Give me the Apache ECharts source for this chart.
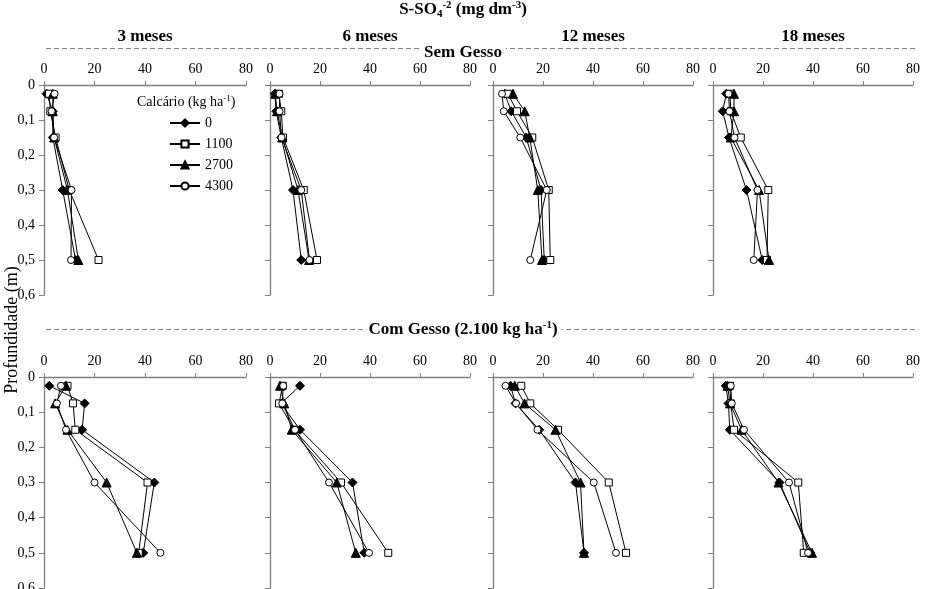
<!DOCTYPE html>
<html><head><meta charset="utf-8">
<script src="https://cdn.jsdelivr.net/npm/echarts@6/dist/echarts.min.js"></script>
<style>html,body{margin:0;padding:0;background:#fff}#c{width:926px;height:589px}</style>
</head><body><div id="c"></div>
<script>
// Depths (m)
const depths = [0.025, 0.075, 0.15, 0.3, 0.5];
const doses = ['0', '1100', '2700', '4300'];
const periods = ['3 meses', '6 meses', '12 meses', '18 meses'];
const xTicks = [0, 20, 40, 60, 80];
const yTicks = [0, 0.1, 0.2, 0.3, 0.4, 0.5, 0.6];

// S-SO4 (mg dm-3) — rows: doses 0, 1100, 2700, 4300 ; cols: depths
const sem3 = [[1, 3.5, 3.5, 7.4, 12.5], [2, 2.5, 4.6, 10, 21.6], [3.5, 3.5, 4, 9.3, 13.6], [4.2, 3, 4, 10.9, 10.7]];
const sem6 = [[1.9, 2.5, 4.5, 9.2, 12.5], [3.6, 4.5, 5.2, 13.5, 18.8], [2.1, 2.8, 4.9, 11.2, 15.6], [3.8, 3.8, 4.6, 12.5, 15.8]];
const sem12 = [[4.7, 7.3, 13.3, 19.2, 20.5], [5.9, 9.6, 15.7, 22.3, 22.9], [8, 12.7, 14.7, 17.9, 19.6], [3.6, 4.3, 10.9, 21.5, 14.9]];
const sem18 = [[5.3, 3.9, 6.4, 13.4, 19.7], [6.8, 7.1, 11.1, 22.1, 21.6], [8.4, 8.4, 7.1, 18.4, 22.4], [6.2, 6.6, 8.6, 17.8, 16.3]];
const com3 = [[2.1, 16.1, 15.1, 43.7, 39.3], [9.3, 11.5, 12.4, 41, 37.5], [8.7, 4.4, 9.3, 24.8, 36.8], [6.7, 5.1, 8.7, 20, 46.1]];
const com6 = [[12, 4.4, 12, 33, 37.7], [5.1, 3.6, 9.7, 28.4, 47.3], [4, 5.7, 8.7, 26.7, 34.3], [5.3, 4.9, 10, 23.6, 39.6]];
const com12 = [[7, 9, 18.5, 33, 36.4], [11.3, 14.9, 26, 46.3, 53.2], [8.7, 12.6, 25, 35, 36.4], [5, 9.2, 17.8, 40.3, 49.2]];
const com18 = [[5.1, 6.2, 6.7, 26.6, 38.9], [6.8, 7.1, 8.4, 34.1, 36.3], [5.8, 6.8, 11.4, 26.2, 39.6], [7.1, 7.5, 12.4, 30.4, 38]];

const panels = [sem3, sem6, sem12, sem18, com3, com6, com12, com18];

const FONT = '"Liberation Serif", "Times New Roman", serif';
const colLeft = [44, 270, 493, 713];
const colWidth = [202, 200, 200, 200];
const rowTop = [85, 377];
const rowHeight = [210, 211];

const markerStyles = [
  {symbol: 'diamond', size: 9, fill: '#000'},
  {symbol: 'rect', size: 7, fill: '#fff'},
  {symbol: 'triangle', size: 9, fill: '#000'},
  {symbol: 'circle', size: 7, fill: '#fff'}
];

const grids = [], xAxes = [], yAxes = [], series = [];
panels.forEach((p, i) => {
  const r = Math.floor(i / 4), c = i % 4;
  grids.push({left: colLeft[c], top: rowTop[r], width: colWidth[c], height: rowHeight[r],
    containLabel: false, outerBoundsMode: 'none'});
  xAxes.push({
    gridIndex: i, type: 'value', position: 'top', min: xTicks[0], max: xTicks[xTicks.length - 1], interval: 20,
    axisLine: {show: true, lineStyle: {color: '#7f7f7f', width: 1.3}},
    axisTick: {show: true, inside: false, length: 4, lineStyle: {color: '#7f7f7f'}},
    axisLabel: {show: true, margin: 9, color: '#000', fontFamily: FONT, fontSize: 14},
    splitLine: {show: false}
  });
  yAxes.push({
    gridIndex: i, type: 'value', inverse: true, min: 0, max: 0.6, interval: 0.1,
    axisLine: {show: true, lineStyle: {color: '#7f7f7f', width: 1.3}},
    axisTick: {show: true, inside: false, length: 5, lineStyle: {color: '#7f7f7f'}},
    axisLabel: {show: c === 0, margin: 9, color: '#000', fontFamily: FONT, fontSize: 14,
      formatter: v => v === 0 ? '0' : v.toFixed(1).replace('.', ',')},
    splitLine: {show: false}
  });
  p.forEach((vals, k) => {
    const m = markerStyles[k];
    series.push({
      type: 'line', name: doses[k], xAxisIndex: i, yAxisIndex: i,
      data: vals.map((v, j) => [v, depths[j]]),
      symbol: m.symbol, symbolSize: m.size, showSymbol: true, animation: false,
      lineStyle: {color: '#000', width: 1},
      itemStyle: {color: m.fill, borderColor: '#000', borderWidth: 1},
      emphasis: {disabled: true}, z: 2 + k
    });
  });
});

const titleRich = {
  b: {fontFamily: FONT, fontSize: 17, fontWeight: 'bold', color: '#000', lineHeight: 20},
  sup: {fontFamily: FONT, fontSize: 11, fontWeight: 'bold', color: '#000', verticalAlign: 'top', lineHeight: 11},
  sub: {fontFamily: FONT, fontSize: 11, fontWeight: 'bold', color: '#000', verticalAlign: 'bottom', lineHeight: 11}
};

const titles = [
  {text: '{b|S-SO}{sub|4}{sup|-2}{b| (mg dm}{sup|-3}{b|)}', left: 'center', top: 0, padding: 0, textStyle: {rich: titleRich}}
];
periods.forEach((t, c) => {
  titles.push({text: t, left: colLeft[c] + colWidth[c] / 2, top: 28, padding: 0, textAlign: 'center',
    textStyle: {fontFamily: FONT, fontSize: 17, fontWeight: 'bold', color: '#000'}});
});

const graphic = [
  {type: 'line', shape: {x1: 46, y1: 48.5, x2: 916, y2: 48.5}, style: {stroke: '#7f7f7f', lineWidth: 1, lineDash: [5, 3]}, z: 1},
  {type: 'text', x: 463, y: 53, style: {text: 'Sem Gesso', align: 'center', verticalAlign: 'middle',
    font: 'bold 17px ' + FONT, fill: '#000', backgroundColor: '#fff', padding: [0, 4]}, z: 5},
  {type: 'line', shape: {x1: 46, y1: 329.5, x2: 916, y2: 329.5}, style: {stroke: '#7f7f7f', lineWidth: 1, lineDash: [5, 3]}, z: 1},
  {type: 'text', x: 463, y: 330, style: {
    text: '{b|Com Gesso (2.100 kg ha}{sup|-1}{b|)}', align: 'center', verticalAlign: 'middle',
    backgroundColor: '#fff', padding: [0, 4], rich: titleRich}, z: 5},
  {type: 'text', x: 12, y: 330, rotation: Math.PI / 2, style: {text: 'Profundidade (m)', align: 'center', verticalAlign: 'middle',
    font: '18px ' + FONT, fill: '#000'}, z: 5},
  {type: 'text', x: 137, y: 102, style: {
    text: '{n|Calcário (kg ha}{s|-1}{n|)}', align: 'left', verticalAlign: 'middle',
    rich: {n: {fontFamily: FONT, fontSize: 14, color: '#000', lineHeight: 16}, s: {fontFamily: FONT, fontSize: 9, color: '#000', verticalAlign: 'top', lineHeight: 9}}}, z: 5}
];

const chart = echarts.init(document.getElementById('c'), null, {renderer: 'canvas'});
chart.setOption({
  backgroundColor: '#fff',
  animation: false,
  title: titles,
  grid: grids, xAxis: xAxes, yAxis: yAxes, series: series,
  legend: {
    data: doses, orient: 'vertical', left: 164, top: 111, itemWidth: 30, itemHeight: 9, itemGap: 7,
    textStyle: {fontFamily: FONT, fontSize: 14, color: '#000'}, selectedMode: false
  },
  graphic: graphic
});
</script></body></html>
